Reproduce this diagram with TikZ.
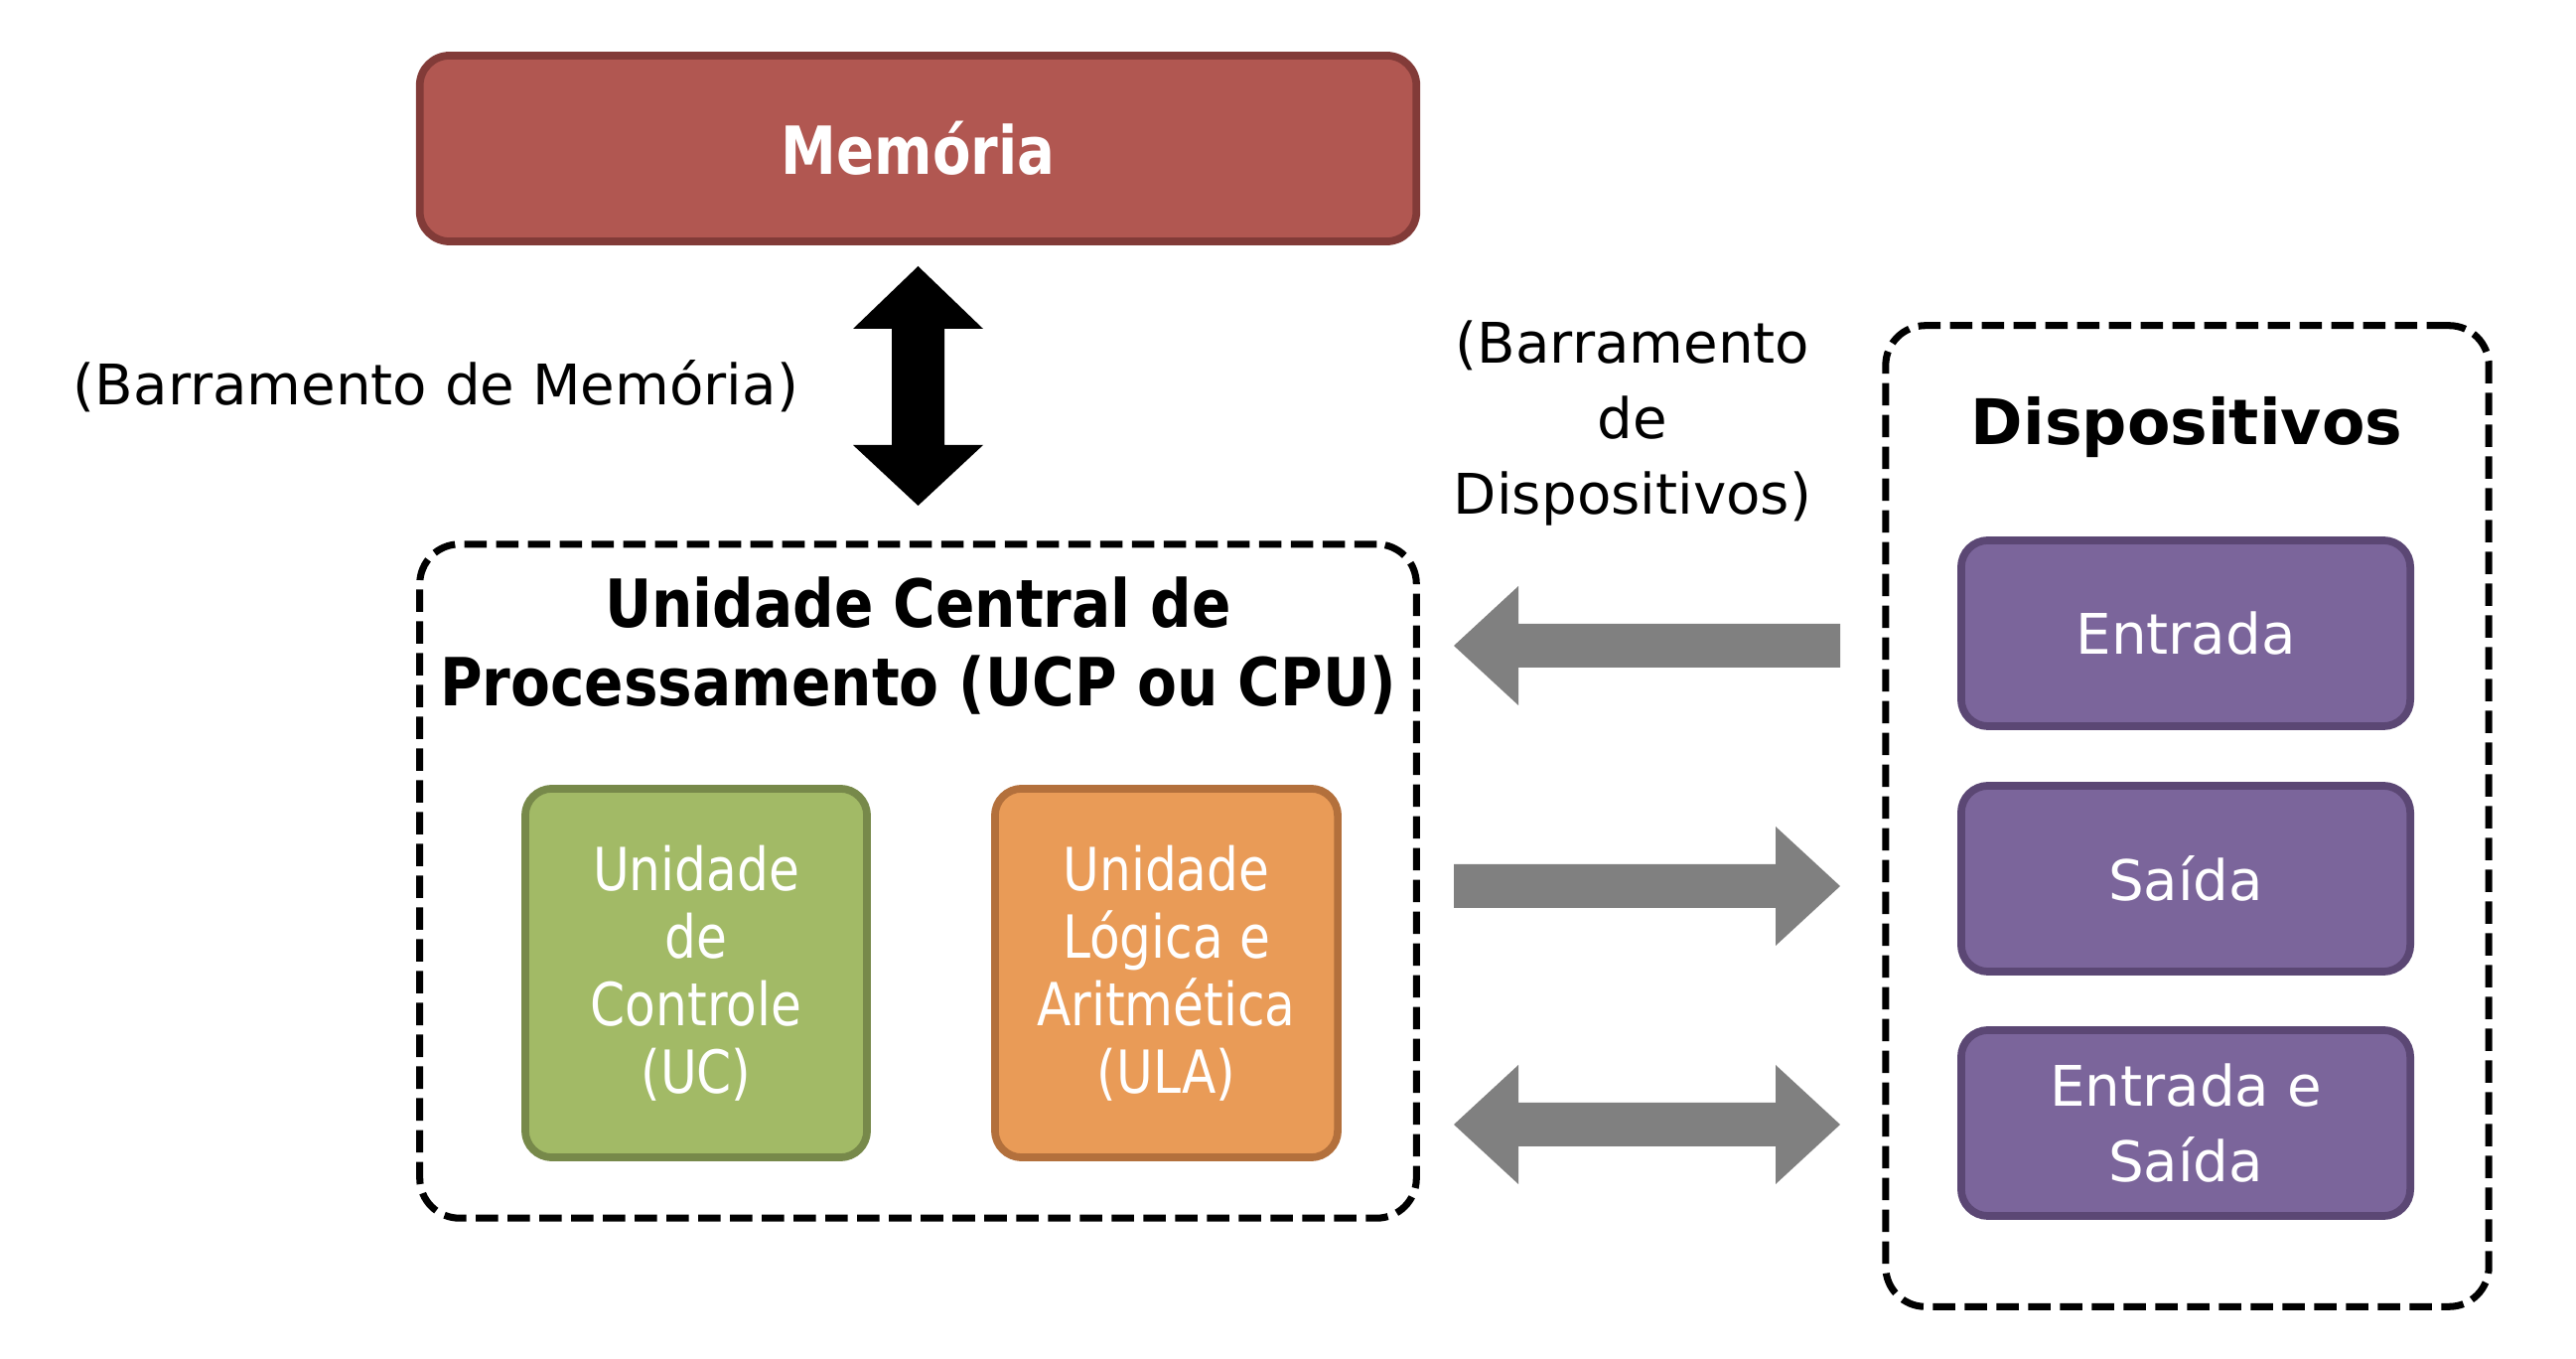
\documentclass[tikz,border=0pt]{standalone}
\usepackage{fontspec}
\setmainfont{DejaVu Sans}
\newfontfamily\condfont{DejaVu Sans}[FakeStretch=0.84]
\newfontfamily\condfontb{DejaVu Sans}[FakeStretch=0.87]
\usetikzlibrary{calc}
\definecolor{memfill}{HTML}{B15751}
\definecolor{memdraw}{HTML}{823B38}
\definecolor{ucfill}{HTML}{A2BA66}
\definecolor{ucdraw}{HTML}{77894A}
\definecolor{ulafill}{HTML}{E99B57}
\definecolor{uladraw}{HTML}{B3703C}
\definecolor{devfill}{HTML}{7B659B}
\definecolor{devdraw}{HTML}{5B4774}
\definecolor{busgray}{HTML}{808080}
\tikzset{
  colbox/.style={rectangle, rounded corners=0.27cm, line width=2.2pt, text=white, align=center, inner sep=0pt},
  groupbox/.style={rectangle, rounded corners=0.4cm, draw=black, line width=2pt, dash pattern=on 6.4pt off 2.7pt},
  bussymbol/.style={fill=busgray},
  memsymbol/.style={fill=black},
}
\begin{document}
\begin{tikzpicture}[x=0.01cm,y=-0.01cm]
\useasboundingbox (0,0) rectangle (2594,1368);
% Memoria
\node[colbox, fill=memfill, draw=memdraw, rounded corners=0.3cm, minimum width=10.03cm, minimum height=1.87cm,
  font={\condfont\bfseries\fontsize{19}{22}\selectfont}] (mem) at (924.5,149.5) {Memória};
% CPU group
\node[groupbox, minimum width=10.03cm, minimum height=6.78cm] (cpu) at (924.5,887) {};
\node[align=center, font={\condfontb\bfseries\fontsize{19}{22.2}\selectfont}] (cputitle) at (924.5,650)
  {Unidade Central de\\Processamento (UCP ou CPU)};
\node[colbox, fill=ucfill, draw=ucdraw, minimum width=3.44cm, minimum height=3.71cm,
  font={\condfont\fontsize{17}{19.3}\selectfont}] (uc) at (701,979.5) {Unidade\\de\\Controle\\(UC)};
\node[colbox, fill=ulafill, draw=uladraw, minimum width=3.45cm, minimum height=3.71cm,
  font={\condfont\fontsize{17}{19.3}\selectfont}] (ula) at (1174.5,979.5) {Unidade\\Lógica e\\Aritmética\\(ULA)};
% memory bus arrow
\coordinate (mbTop) at (924.5,268);
\coordinate (mbBot) at (924.5,509);
\fill[memsymbol] (mbTop) -- ++(65.5,63) -- ++(-39,0) -- ++(0,117) -- ++(39,0) -- (mbBot)
  -- ++(-65.5,-61) -- ++(39,0) -- ++(0,-117) -- ++(-39,0) -- cycle;
\node[font={\fontsize{16}{19}\selectfont}] (mblabel) at (439,389) {(Barramento de Memória)};
% Devices group
\node[groupbox, minimum width=6.07cm, minimum height=9.87cm] (dev) at (2202.5,821.5) {};
\node[font={\bfseries\fontsize{18}{21}\selectfont}] (devtitle) at (2202,430) {Dispositivos};
\node[colbox, fill=devfill, draw=devdraw, minimum width=4.52cm, minimum height=1.87cm,
  font={\fontsize{16}{21.6}\selectfont}] (in) at (2201,637.5) {Entrada};
\node[colbox, fill=devfill, draw=devdraw, minimum width=4.52cm, minimum height=1.87cm,
  font={\fontsize{16}{21.6}\selectfont}] (out) at (2201,884.5) {Saída};
\node[colbox, fill=devfill, draw=devdraw, minimum width=4.52cm, minimum height=1.87cm,
  font={\fontsize{16}{21.6}\selectfont}] (io) at (2201,1130.5) {Entrada e\\Saída};
\node[align=center, font={\fontsize{16}{21.6}\selectfont}] (dblabel) at (1644,426) {(Barramento\\de\\Dispositivos)};
% device bus arrows
\coordinate (a1L) at (1464,650);  \coordinate (a1R) at (1853,650);
\coordinate (a2L) at (1464,892);  \coordinate (a2R) at (1853,892);
\coordinate (a3L) at (1464,1132); \coordinate (a3R) at (1853,1132);
\fill[bussymbol] (a1L) -- ++(65,-60) -- ++(0,38) -- ($(a1R)+(0,-22)$) -- ($(a1R)+(0,22)$) -- ($(a1L)+(65,22)$) -- ++(0,38) -- cycle;
\fill[bussymbol] ($(a2L)+(0,-22)$) -- ($(a2R)+(-65,-22)$) -- ++(0,-38) -- (a2R) -- ++(-65,60) -- ++(0,-38) -- ($(a2L)+(0,22)$) -- cycle;
\fill[bussymbol] (a3L) -- ++(65,-60) -- ++(0,38) -- ($(a3R)+(-65,-22)$) -- ++(0,-38) -- (a3R) -- ++(-65,60) -- ++(0,-38) -- ($(a3L)+(65,22)$) -- ++(0,38) -- cycle;
\end{tikzpicture}
\end{document}
